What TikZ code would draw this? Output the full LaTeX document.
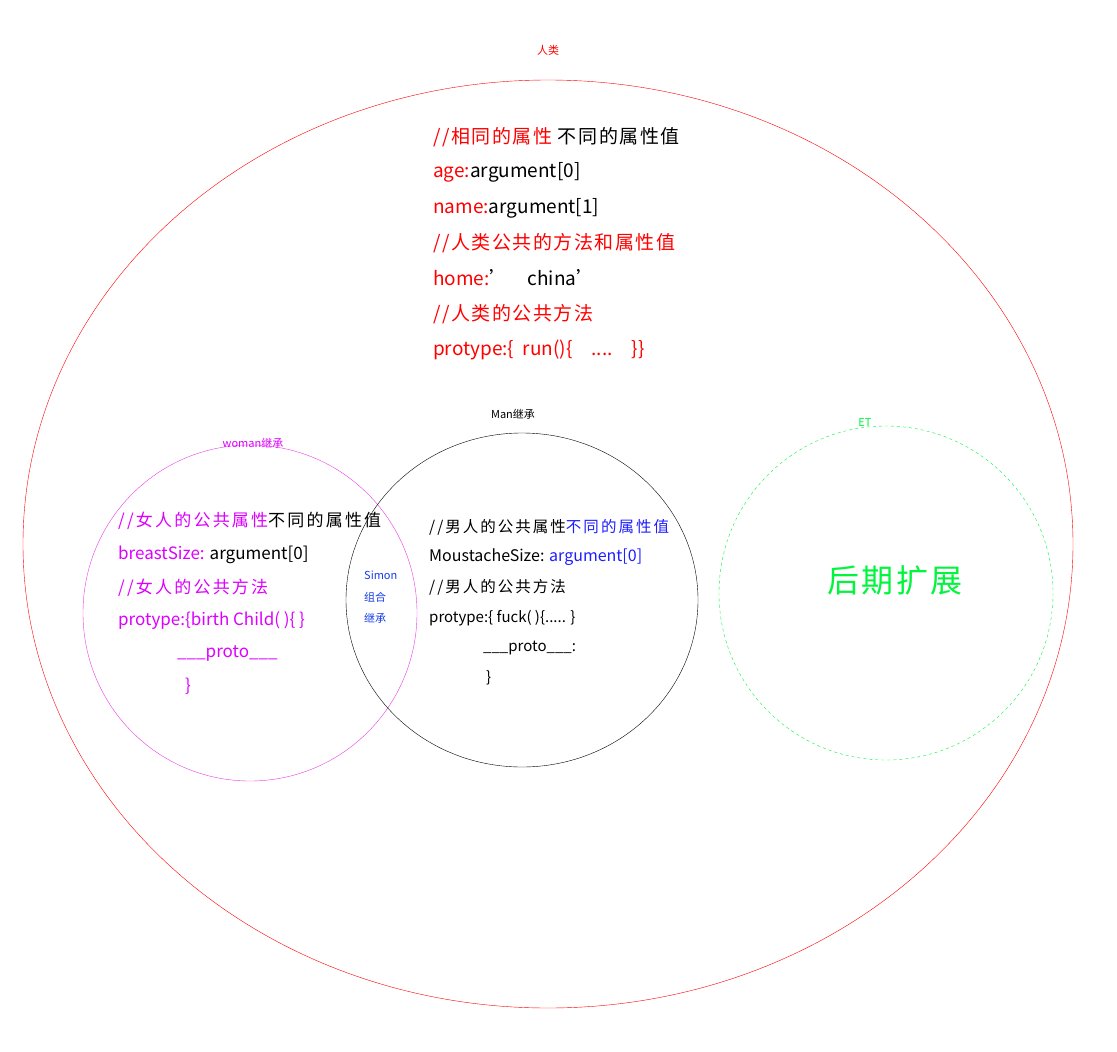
\documentclass[tikz,border=0pt]{standalone}
\usepackage{fontspec}
\setmainfont{Noto Sans CJK SC}
\newfontfamily\widecjk[LetterSpace=8]{Noto Sans CJK SC}
\newfontfamily\widercjk[LetterSpace=13]{Noto Sans CJK SC}
\definecolor{cred}{RGB}{255,0,0}
\definecolor{cmag}{RGB}{221,0,255}
\definecolor{cmagline}{RGB}{230,60,230}
\definecolor{cblue}{RGB}{30,30,255}
\definecolor{csimon}{RGB}{20,60,230}
\definecolor{cgreen}{RGB}{0,245,60}
\tikzset{venn/.style={x=1pt,y=-1pt,font=\fontsize{11}{13}\selectfont},
  codeline/.style={anchor=west,inner sep=0pt},
  toptext/.style={codeline,font=\fontsize{19}{21}\selectfont},
  topnote/.style={codeline,font=\widecjk\fontsize{19}{21}\selectfont},
  womantext/.style={codeline,font=\fontsize{17}{19}\selectfont},
  womannote/.style={codeline,font=\widercjk\fontsize{17}{19}\selectfont},
  mantext/.style={codeline,font=\fontsize{15}{17}\selectfont},
  mannote/.style={codeline,font=\widercjk\fontsize{15.5}{17}\selectfont},
  simontext/.style={codeline,text=csimon,font=\fontsize{11}{13}\selectfont},
  setlabel/.style={inner sep=0pt,font=\fontsize{11}{13}\selectfont}}

\begin{document}
\begin{tikzpicture}[venn]
    \useasboundingbox (0,0) rectangle (1117,1052);
    % sets
    \draw[cred] (548,544) ellipse [x radius=525,y radius=464];
    \draw[cmagline] (250,613) ellipse [x radius=167,y radius=168];
    \draw[black] (522,600) ellipse [x radius=176,y radius=167];
    \draw[cgreen,dashed] (886,593) ellipse [x radius=167,y radius=167];
    \node[setlabel,text=cred] (human) at (548,50) {人类};
    \node[setlabel,text=cmag] (woman) at (253,443) {woman继承};
    \node[setlabel] (man) at (513,414) {Man继承};
    \node[setlabel,text=cgreen] (later) at (865,422) {ET};
    % human block
    \node[topnote] (h1) at (433,137) {\textcolor{cred}{//相同的属性} 不同的属性值};
    \node[toptext] (h2) at (433,172) {\textcolor{cred}{age:}argument[0]};
    \node[toptext] (h3) at (433,208) {\textcolor{cred}{name:}argument[1]};
    \node[topnote,text=cred] (h4) at (433,243) {//人类公共的方法和属性值};
    \node[toptext] (h5) at (433,278) {\textcolor{cred}{home:}’\quad china’};
    \node[topnote,text=cred] (h6) at (433,314) {//人类的公共方法};
    \node[toptext,text=cred] (h7) at (433,350) {protype:\{~ run()\{\quad ....\quad\}\}};
    % woman block
    \node[womannote] (w1) at (118,521) {\textcolor{cmag}{//女人的公共属性}不同的属性值};
    \node[womantext] (w2) at (118,555) {\textcolor{cmag}{breastSize:} argument[0]};
    \node[womannote,text=cmag] (w3) at (118,588) {//女人的公共方法};
    \node[womantext,text=cmag] (w4) at (118,621) {protype:\{birth Child( )\{ \}};
    \node[womantext,text=cmag] (w5) at (177,654) {\_\_\_proto\_\_\_};
    \node[womantext,text=cmag] (w6) at (185,686) {\}};
    % man block
    \node[mannote] (m1) at (429,527) {//男人的公共属性\textcolor{cblue}{不同的属性值}};
    \node[mantext,font=\fontsize{16}{18}\selectfont] (m2) at (429,557) {MoustacheSize: \textcolor{cblue}{argument[0]}};
    \node[mannote] (m3) at (429,587) {//男人的公共方法};
    \node[mantext] (m4) at (429,618) {protype:\{ fuck( )\{..... \}};
    \node[mantext] (m5) at (483,648) {\_\_\_proto\_\_\_:};
    \node[mantext] (m6) at (486,678) {\}};
    % overlap
    \node[simontext] (s1) at (364,575) {Simon};
    \node[simontext] (s2) at (364,597) {组合};
    \node[simontext] (s3) at (364,618) {继承};
    \node[text=cgreen,font=\widecjk\fontsize{32}{36}\selectfont] (ext) at (895,580) {后期扩展};
  \end{tikzpicture}
\end{document}
